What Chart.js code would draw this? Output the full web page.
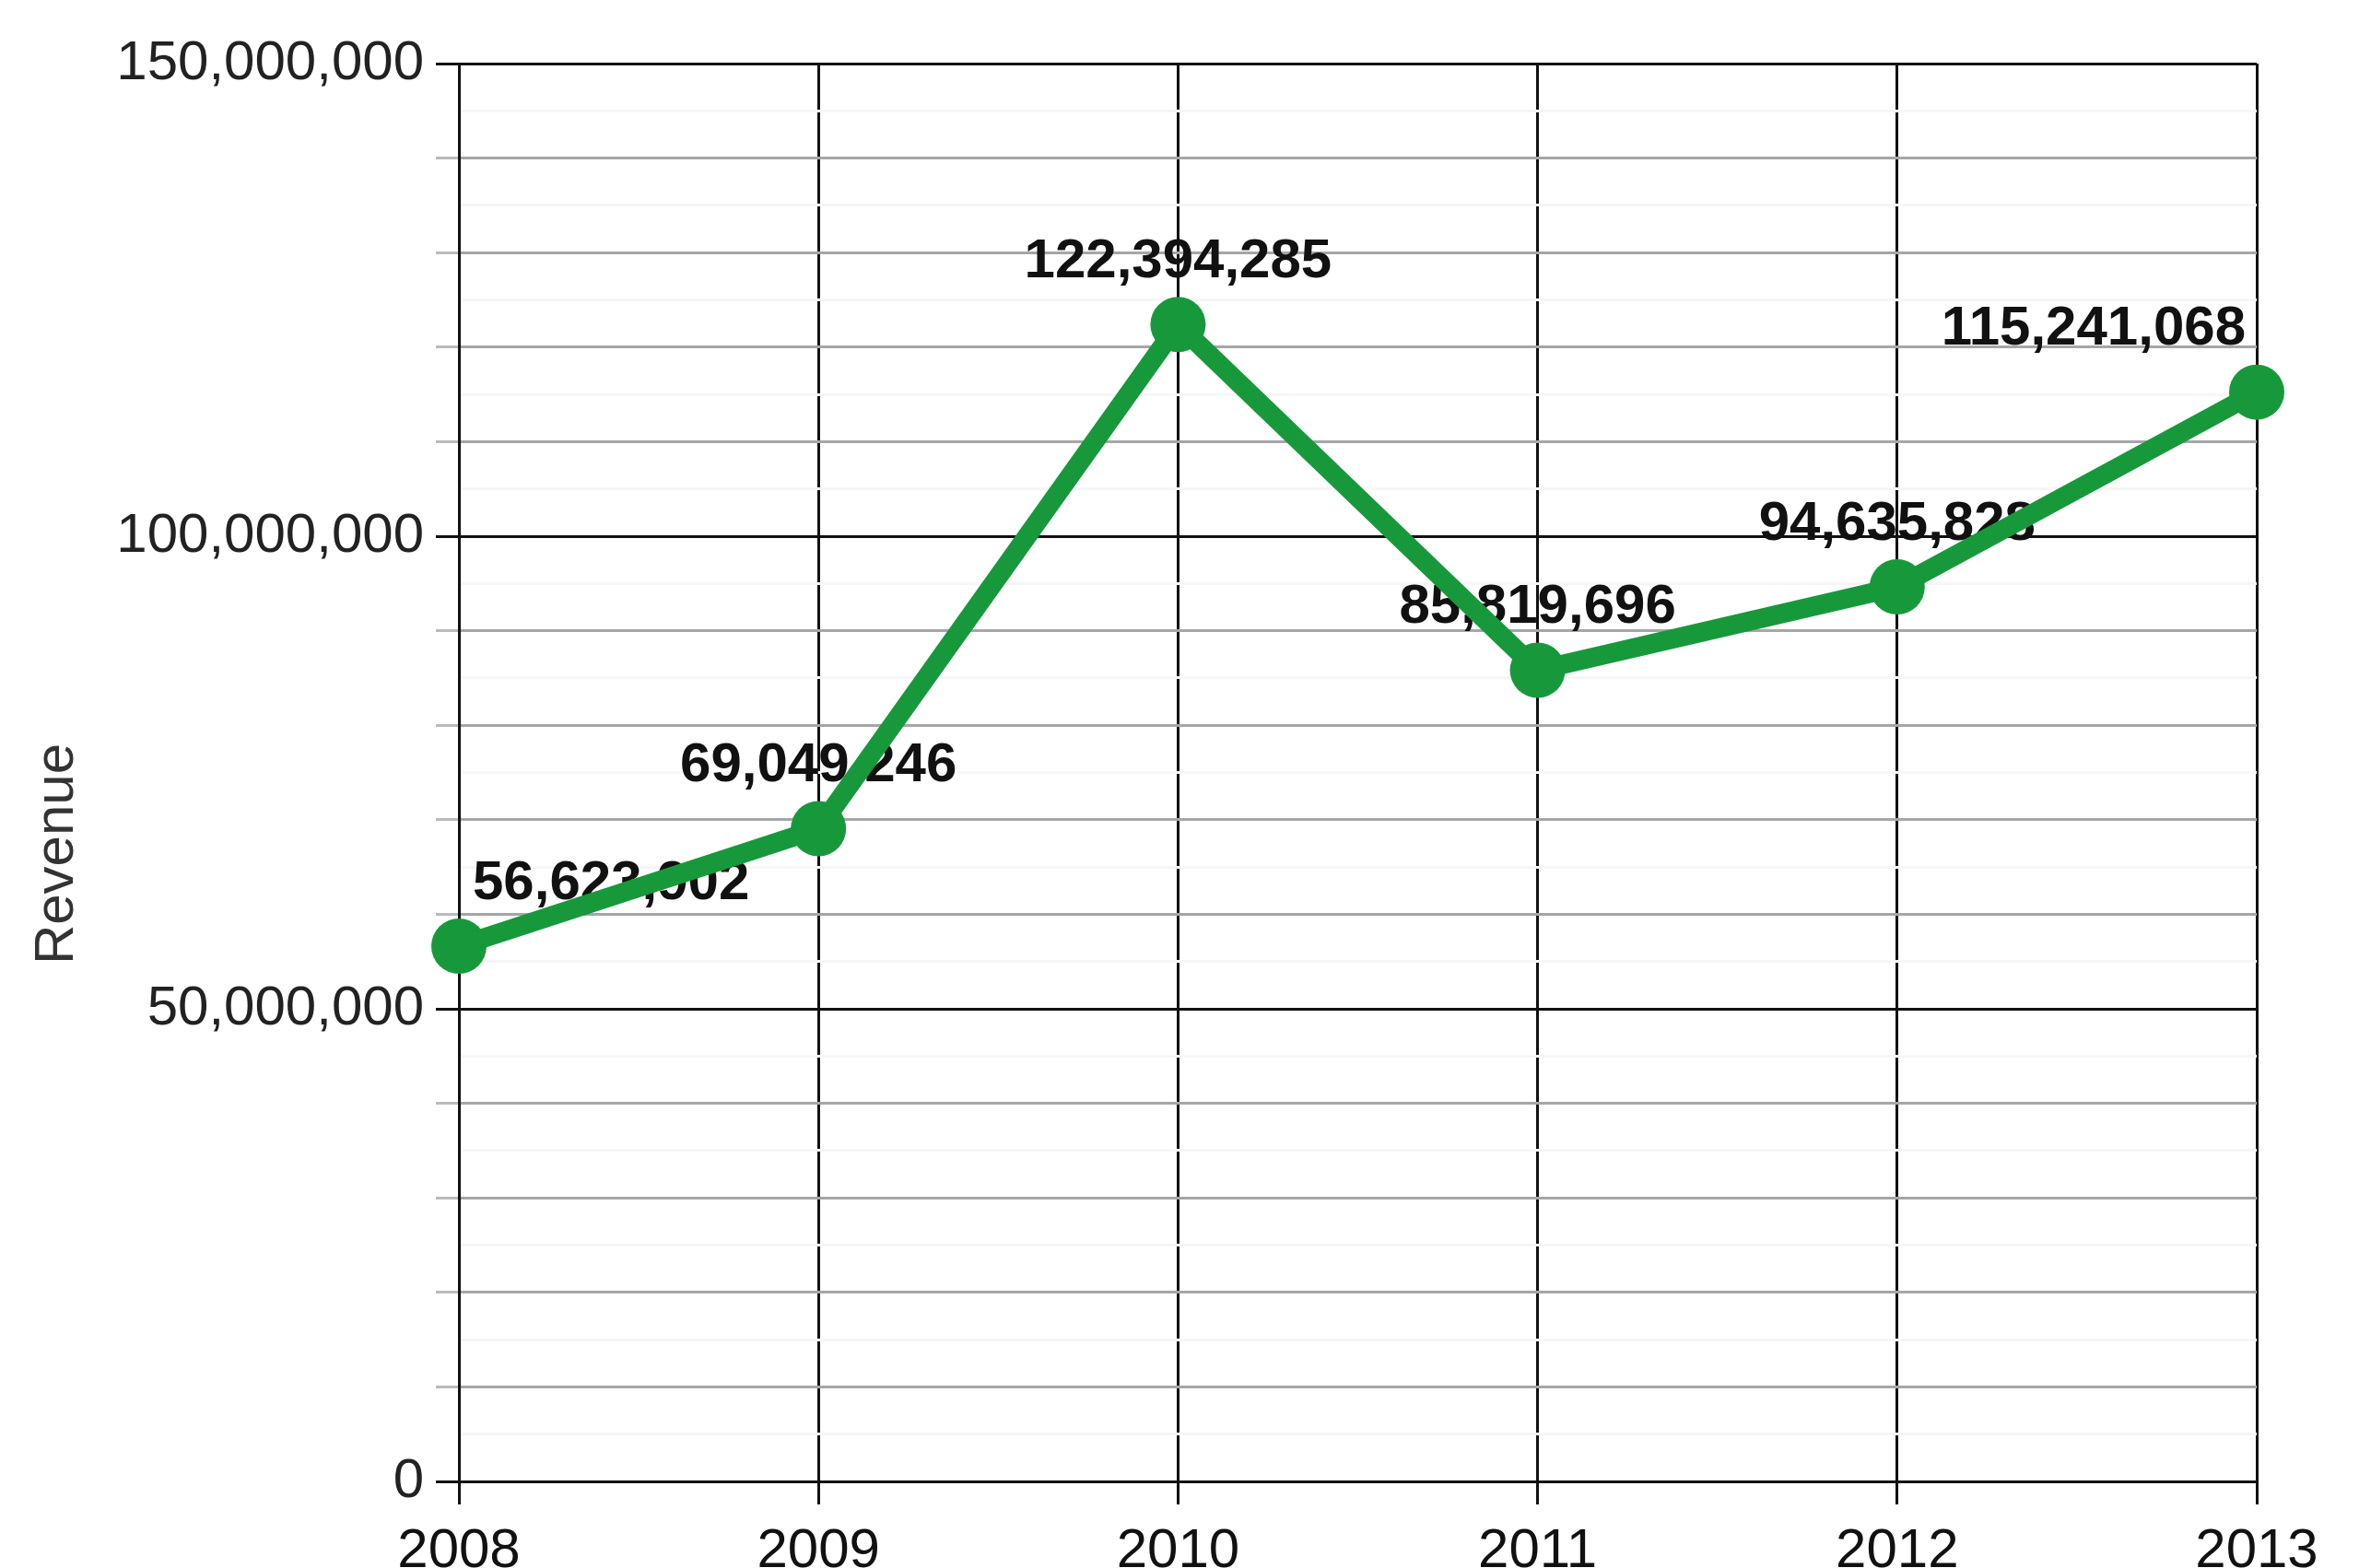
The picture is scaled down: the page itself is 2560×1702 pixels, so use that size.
<!DOCTYPE html>
<html>
<head>
<meta charset="utf-8">
<script src="https://cdn.jsdelivr.net/npm/chart.js@4/dist/chart.umd.min.js"></script>
<style>
  html, body { margin: 0; padding: 0; background: #fff; overflow: hidden; }
  #wrap { width: 2560px; height: 1702px; overflow: hidden; position: relative; }
  #revenueChart { display: block; }
</style>
</head>
<body>
<div id="wrap">
  <canvas id="revenueChart" width="2560" height="1760"></canvas>
</div>
<script>
// Chart data
const years = ['2008', '2009', '2010', '2011', '2012', '2013'];
const revenue = [56623902, 69049246, 122394285, 85819696, 94635828, 115241068];
const yTicks = [0, 50000000, 100000000, 150000000];
const axisTitle = 'Revenue';

const green = '#17993b';
const fontFamily = '"Liberation Sans", Arial, sans-serif';
const fontSize = 60;

// label for each point, drawn before the line so the line sits on top
const pointLabels = {
  id: 'pointLabels',
  beforeDatasetsDraw(chart) {
    const ctx = chart.ctx;
    const pts = chart.getDatasetMeta(0).data;
    ctx.save();
    ctx.font = 'bold ' + fontSize + 'px ' + fontFamily;
    ctx.fillStyle = '#111';
    ctx.textBaseline = 'middle';
    pts.forEach((p, i) => {
      let x = p.x;
      ctx.textAlign = 'center';
      if (i === 0) { ctx.textAlign = 'left'; x = p.x + 15; }
      if (i === pts.length - 1) { ctx.textAlign = 'right'; x = p.x - 12; }
      ctx.fillText(revenue[i].toLocaleString('en-US'), x, p.y - 68);
    });
    ctx.restore();
  }
};

// rotated y axis title, sits a bit below the middle of the axis
const yTitle = {
  id: 'yTitle',
  afterDraw(chart) {
    const ctx = chart.ctx;
    ctx.save();
    ctx.translate(62, 927);
    ctx.rotate(-Math.PI / 2);
    ctx.font = fontSize + 'px ' + fontFamily;
    ctx.fillStyle = '#333';
    ctx.textAlign = 'center';
    ctx.textBaseline = 'middle';
    ctx.fillText(axisTitle, 0, 0);
    ctx.restore();
  }
};

const ctx = document.getElementById('revenueChart').getContext('2d');

new Chart(ctx, {
  type: 'line',
  data: {
    labels: years,
    datasets: [{
      label: axisTitle,
      data: revenue,
      borderColor: green,
      backgroundColor: green,
      borderWidth: 21,
      pointRadius: 30,
      pointBackgroundColor: green,
      pointBorderWidth: 0,
      tension: 0,
      clip: false
    }]
  },
  options: {
    responsive: false,
    animation: false,
    layout: { padding: { top: 69, right: 111, bottom: 12, left: 0 } },
    plugins: {
      legend: { display: false },
      tooltip: { enabled: false }
    },
    scales: {
      x: {
        offset: false,
        border: { color: '#111', width: 3 },
        grid: {
          color: '#111',
          lineWidth: 3,
          tickLength: 25,
          tickColor: '#111',
          drawTicks: true
        },
        ticks: {
          color: '#111',
          font: { family: fontFamily, size: fontSize },
          padding: 15,
          maxRotation: 0
        },
        afterFit: s => { s.height = 140; }
      },
      y: {
        min: 0,
        max: 150000000,
        border: { color: '#111', width: 3 },
        grid: {
          color: c => {
            const v = c.tick.value;
            if (v % 50000000 === 0) return '#111';
            if (v % 10000000 === 0) return '#a6a6a6';
            return '#f6f6f6';
          },
          lineWidth: 3,
          tickColor: c => {
            const v = c.tick.value;
            if (v % 50000000 === 0) return '#111';
            if (v % 10000000 === 0) return '#bbb';
            return 'rgba(0,0,0,0)';
          },
          tickLength: 25
        },
        ticks: {
          stepSize: 5000000,
          autoSkip: false,
          color: '#222',
          font: { family: fontFamily, size: fontSize },
          padding: 13,
          callback: v => yTicks.includes(v) ? v.toLocaleString('en-US') : ''
        },
        afterFit: s => { s.width = 498; }
      }
    }
  },
  plugins: [pointLabels, yTitle]
});
</script>
</body>
</html>
